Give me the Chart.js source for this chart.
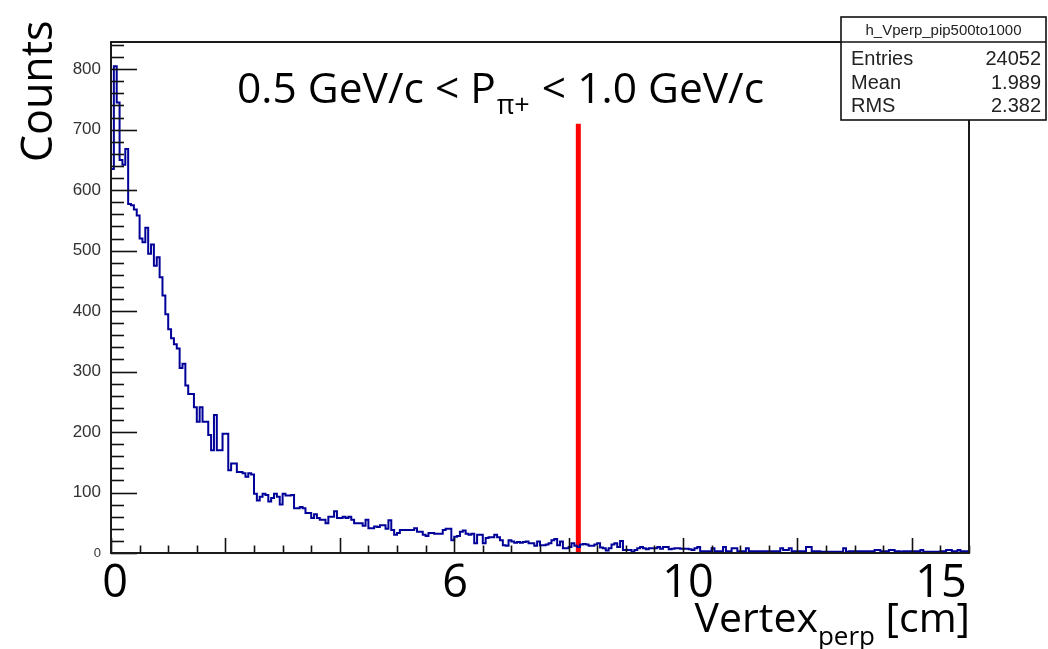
<!DOCTYPE html>
<html>
<head>
<meta charset="utf-8">
<script src="https://cdn.jsdelivr.net/npm/chart.js@4.4.1/dist/chart.umd.min.js"></script>
<style>
  html, body { margin: 0; padding: 0; background: #fff; }
  canvas { display: block; }
</style>
</head>
<body>
<canvas id="grafica" width="1048" height="649"></canvas>
<script>
// ===============================
// DATOS
// ===============================
const histName = "h_Vperp_pip500to1000";
const statLabels = ["Entries", "Mean", "RMS"];
const statValues = ["24052", "1.989", "2.382"];

const binWidth = 0.05;   // cm
const xMin = 0, xMax = 15;
const yMin = 0, yMax = 845;

// counts per bin (300 bins, 0 - 15 cm)
const counts = [
  185, 635, 805, 745, 650, 642, 668, 577, 575, 568,
  558, 520, 514, 538, 495, 510, 475, 489, 456, 426,
  395, 370, 355, 345, 338, 306, 313, 277, 263, 263,
  241, 217, 241, 217, 217, 195, 170, 228, 170, 170,
  197, 197, 137, 148, 148, 134, 134, 132, 126, 132,
  130, 98, 87, 93, 98, 96, 85, 91, 98, 93,
  80, 98, 95, 95, 96, 74, 74, 76, 74, 66,
  66, 58, 64, 58, 55, 55, 49, 60, 60, 69,
  58, 58, 60, 58, 60, 55, 49, 49, 49, 45,
  55, 41, 41, 44, 43, 46, 46, 40, 54, 38,
  30, 33, 38, 38, 38, 38, 38, 41, 35, 35,
  30, 28, 33, 33, 32, 32, 32, 38, 40, 40,
  21, 27, 28, 35, 37, 32, 30, 32, 16, 30,
  30, 16, 25, 26, 26, 30, 26, 21, 13, 12,
  21, 19, 17, 18, 17, 18, 19, 16, 16, 12,
  19, 13, 13, 14, 16, 21, 23, 13, 19, 8,
  8, 10, 16, 12, 10, 14, 15, 14, 12, 12,
  14, 16, 9, 8, 4, 8, 14, 16, 10, 20,
  5, 5, 5, 2, 5, 8, 10, 8, 6, 8,
  8, 8, 10, 7, 10, 10, 6, 7, 8, 8,
  7, 7, 7, 6, 5, 8, 10, 3, 3, 3,
  3, 8, 3, 3, 3, 10, 3, 3, 8, 8,
  3, 3, 3, 8, 3, 3, 3, 3, 3, 3,
  3, 3, 3, 3, 3, 8, 5, 5, 8, 3,
  3, 3, 3, 3, 10, 10, 3, 3, 3, 2,
  2, 2, 2, 2, 2, 2, 2, 8, 2, 3,
  3, 3, 3, 3, 3, 3, 3, 3, 5, 5,
  3, 3, 3, 5, 5, 3, 3, 2, 3, 3,
  3, 3, 3, 3, 5, 2, 2, 2, 2, 2,
  2, 3, 3, 5, 5, 3, 3, 5, 3, 3
];

// linea de corte
const cutX = 8.17;
const cutTop = 710;

// ejes
const yMajorTicks = [0, 100, 200, 300, 400, 500, 600, 700, 800];
const yMinorStep = 20;
const xMajorTicks = [0, 2, 4, 6, 8, 10, 12, 14];
const xMinorStep = 0.5;
const xLabelValues = [0, 6, 10, 15];
const xLabelTexts = ["0", "6", "10", "15"];

const yTitle = "Counts";
const xTitleMain = "Vertex";
const xTitleSub = "perp";
const xTitleUnit = " [cm]";
const titleLeft = "0.5 GeV/c < P";
const titleSub = "\u03c0+";
const titleRight = " < 1.0 GeV/c";

// ===============================
// DATASETS
// ===============================
const histPoints = counts.map((c, i) => ({ x: xMin + i * binWidth, y: c }));
histPoints.push({ x: xMax, y: counts[counts.length - 1] });

const cutPoints = [{ x: cutX, y: 0 }, { x: cutX, y: cutTop }];

// ===============================
// DIBUJO: marco, ticks, textos, caja de estadistica
// ===============================
const FONT_TXT = '"Open Sans", "Noto Sans", sans-serif';
const FONT_ROOT = '"Liberation Sans", Arial, sans-serif';
const xLabelShift = [4, 1, 5, -28];

const decor = {
  id: "decor",
  afterDatasetsDraw(chart) {
    const { ctx, chartArea: a, scales: { x, y } } = chart;
    ctx.save();

    // ticks eje Y (hacia dentro)
    ctx.strokeStyle = "#111";
    ctx.lineWidth = 1.6;
    const nY = Math.floor((yMax - yMin) / yMinorStep);
    for (let k = 0; k <= nY; k++) {
      const v = yMin + k * yMinorStep;
      const py = Math.round(y.getPixelForValue(v)) + 0.5;
      const len = (v % 100 === 0) ? 26 : 13;
      ctx.beginPath();
      ctx.moveTo(a.left, py);
      ctx.lineTo(a.left + len, py);
      ctx.stroke();
    }

    // ticks eje X (hacia arriba)
    const nX = Math.round((xMax - xMin) / xMinorStep);
    for (let k = 0; k <= nX; k++) {
      const v = xMin + k * xMinorStep;
      const px = Math.round(x.getPixelForValue(v)) + 0.5;
      const len = xMajorTicks.includes(v) ? 15 : 7.5;
      ctx.beginPath();
      ctx.moveTo(px, a.bottom);
      ctx.lineTo(px, a.bottom - len);
      ctx.stroke();
    }

    // marco
    ctx.lineWidth = 2;
    ctx.strokeStyle = "#1a1a1a";
    ctx.strokeRect(a.left, a.top, a.right - a.left, a.bottom - a.top);

    // etiquetas eje Y
    ctx.fillStyle = "#333";
    ctx.textAlign = "right";
    ctx.textBaseline = "middle";
    yMajorTicks.forEach(v => {
      const py = y.getPixelForValue(v);
      ctx.font = (v === 0 ? "13px " : "17px ") + FONT_ROOT;
      ctx.fillText(String(v), a.left - 10, py);
    });

    // etiquetas eje X (texto grande)
    ctx.fillStyle = "#000";
    ctx.font = "45px " + FONT_TXT;
    ctx.textAlign = "center";
    ctx.textBaseline = "alphabetic";
    xLabelValues.forEach((v, i) => {
      ctx.fillText(xLabelTexts[i], x.getPixelForValue(v) + xLabelShift[i], 597);
    });

    // titulo eje X: Vertex_perp [cm]
    ctx.textAlign = "left";
    const bigX = "41px " + FONT_TXT, smallX = "26px " + FONT_TXT;
    ctx.font = bigX;
    const w1 = ctx.measureText(xTitleMain).width;
    const w3 = ctx.measureText(xTitleUnit).width;
    ctx.font = smallX;
    const w2 = ctx.measureText(xTitleSub).width;
    let tx = 970 - (w1 + w2 + w3);
    ctx.font = bigX;
    ctx.fillText(xTitleMain, tx, 632);
    ctx.font = smallX;
    ctx.fillText(xTitleSub, tx + w1, 645);
    ctx.font = bigX;
    ctx.fillText(xTitleUnit, tx + w1 + w2, 632);

    // titulo eje Y: Counts (rotado)
    ctx.save();
    ctx.translate(52, 162);
    ctx.rotate(-Math.PI / 2);
    ctx.font = "43px " + FONT_TXT;
    ctx.textAlign = "left";
    ctx.fillText(yTitle, 0, 0, 143);
    ctx.restore();

    // texto del rango de momento
    const bigT = "42.5px " + FONT_TXT, smallT = "27px " + FONT_TXT;
    let sx = 237;
    ctx.font = bigT;
    ctx.fillText(titleLeft, sx, 103);
    sx += ctx.measureText(titleLeft).width;
    ctx.font = smallT;
    ctx.fillText(titleSub, sx + 1, 114);
    sx += ctx.measureText(titleSub).width + 2;
    ctx.font = bigT;
    ctx.fillText(titleRight, sx, 103);

    // caja de estadistica
    const bx = 841, by = 17, bw = 205, bh = 103;
    ctx.fillStyle = "#fff";
    ctx.fillRect(bx, by, bw, bh);
    ctx.lineWidth = 1.6;
    ctx.strokeStyle = "#111";
    ctx.strokeRect(bx, by, bw, bh);
    ctx.beginPath();
    ctx.moveTo(bx, 42);
    ctx.lineTo(bx + bw, 42);
    ctx.stroke();

    ctx.fillStyle = "#222";
    ctx.font = "15px " + FONT_ROOT;
    ctx.textAlign = "center";
    ctx.fillText(histName, bx + bw / 2, 35, 186);

    ctx.font = "20px " + FONT_ROOT;
    const rowY = [65, 89, 112];
    statLabels.forEach((lab, i) => {
      ctx.textAlign = "left";
      ctx.fillText(lab, 851, rowY[i]);
      ctx.textAlign = "right";
      ctx.fillText(statValues[i], 1041, rowY[i]);
    });

    ctx.restore();
  }
};

// ===============================
// GRAFICA
// ===============================
const ctx = document.getElementById("grafica").getContext("2d");

const chart = new Chart(ctx, {
  type: "line",
  data: {
    datasets: [
      {
        label: histName,
        data: histPoints,
        stepped: "after",
        borderColor: "#000099",
        borderWidth: 2,
        pointRadius: 0,
        fill: false
      },
      {
        label: "cut",
        data: cutPoints,
        borderColor: "#ff0000",
        borderWidth: 5,
        pointRadius: 0,
        fill: false
      }
    ]
  },
  options: {
    responsive: false,
    animation: false,
    devicePixelRatio: 1,
    layout: { padding: { left: 111, right: 79, top: 42, bottom: 96 } },
    plugins: {
      legend: { display: false },
      tooltip: { enabled: false }
    },
    scales: {
      x: { type: "linear", min: xMin, max: xMax, display: false },
      y: { type: "linear", min: yMin, max: yMax, display: false }
    }
  },
  plugins: [decor]
});
</script>
</body>
</html>
